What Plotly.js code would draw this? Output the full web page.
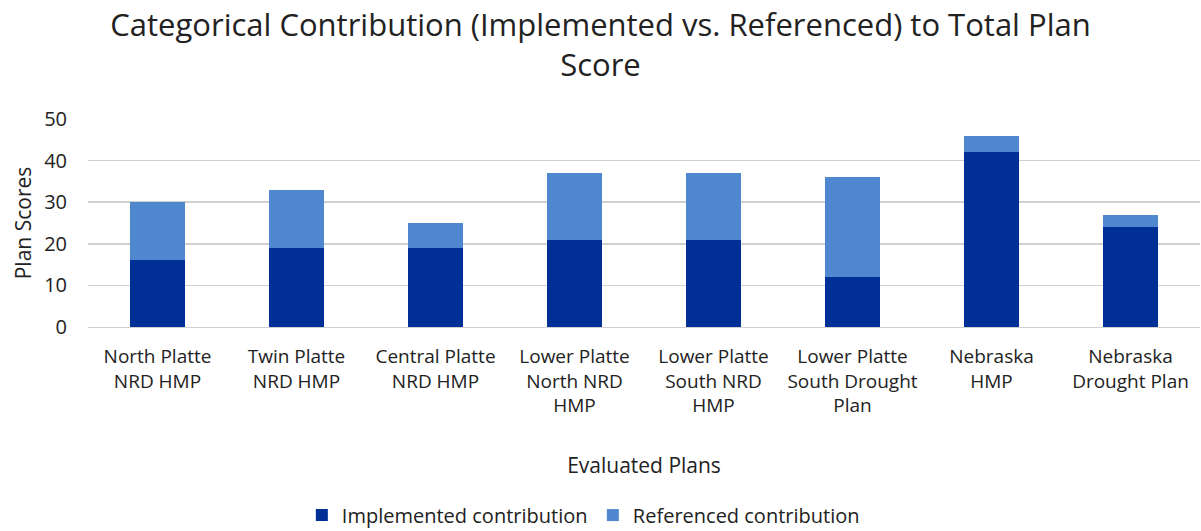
<!DOCTYPE html>
<html><head><meta charset="utf-8">
<script src="https://cdn.plot.ly/plotly-3.0.1.min.js"></script>
<style>body{margin:0;background:#fff}#c{width:1201px;height:531px}</style>
</head><body><div id="c"></div>
<script>
const categories = ["North Platte<br>NRD HMP","Twin Platte<br>NRD HMP","Central Platte<br>NRD HMP","Lower Platte<br>North NRD<br>HMP","Lower Platte<br>South NRD<br>HMP","Lower Platte<br>South Drought<br>Plan","Nebraska<br>HMP","Nebraska<br>Drought Plan"];
const implemented = [16,19,19,21,21,12,42,24];
const referenced = [14,14,6,16,16,24,4,3];
const yTicks = [0,10,20,30,40,50];
const font = "Open Sans, Lato, sans-serif";
Plotly.newPlot('c',[
 {type:'bar',name:'Implemented contribution',x:categories,y:implemented,marker:{color:'#002f96'}},
 {type:'bar',name:'Referenced contribution',x:categories,y:referenced,marker:{color:'#4f88cf'}}
],{
 width:1201,height:531,barmode:'stack',bargap:0.6,
 paper_bgcolor:'#fff',plot_bgcolor:'#fff',
 font:{family:font,color:'#222',size:19},
 margin:{l:88,r:1,t:119,b:204},
 title:{text:'Categorical Contribution (Implemented vs. Referenced) to Total Plan<br>Score',x:0.5,xanchor:'center',yref:'container',y:0.933,yanchor:'middle',font:{size:31,color:'#222',family:font}},
 xaxis:{tickfont:{size:19},ticklabelstandoff:12,title:{text:'Evaluated Plans',font:{size:21},standoff:41},showline:true,linecolor:'#d0d0d0',ticks:''},
 yaxis:{range:[0,50],tickvals:yTicks,tickfont:{size:20},ticklabelstandoff:20,gridcolor:'#d0d0d0',gridwidth:1.5,zeroline:false,title:{text:'Plan Scores',font:{size:21},standoff:6},ticklen:0,ticks:''},
 legend:{orientation:'h',x:0.454,xanchor:'center',yref:'container',y:0.03,yanchor:'middle',font:{size:20},traceorder:'normal',entrywidth:246},
 showlegend:true
},{displayModeBar:false,staticPlot:true});
</script></body></html>
